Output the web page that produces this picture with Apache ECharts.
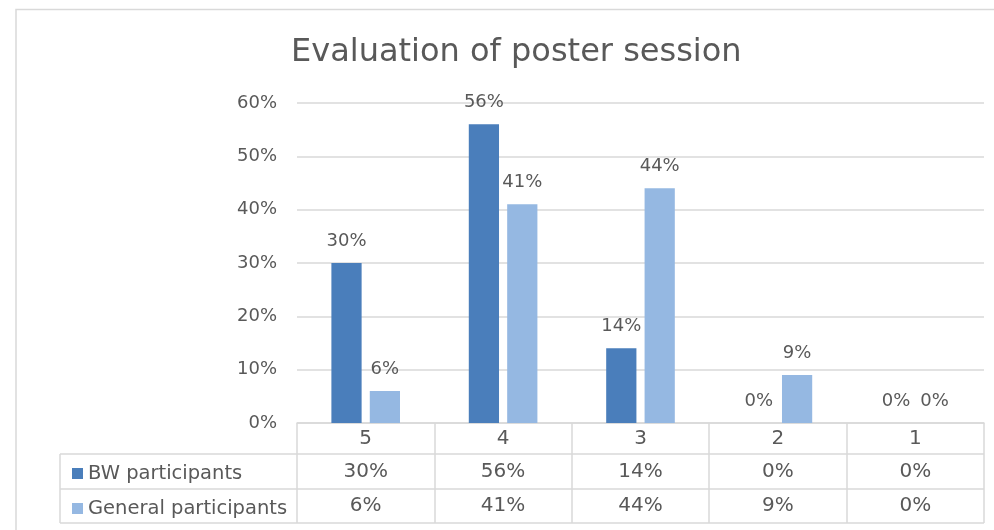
<!DOCTYPE html>
<html>
<head>
<meta charset="utf-8">
<script src="https://cdn.jsdelivr.net/npm/echarts@6/dist/echarts.min.js"></script>
<style>
  html, body { margin: 0; padding: 0; background: #ffffff; }
  #chart { width: 994px; height: 530px; }
</style>
</head>
<body>
<div id="chart"></div>
<script>
// Ratings (5 = best) and share of respondents per rating, in percent
const ratings = ['5', '4', '3', '2', '1'];
const seriesNames = ['BW participants', 'General participants'];
const bwValues = [30, 56, 14, 0, 0];
const generalValues = [6, 41, 44, 9, 0];
const yTicks = { min: 0, max: 60, interval: 10 };

const TEXT = '#595959';
const LINE = '#d9d9d9';
const FONT = 'DejaVu Sans';
const colors = ['#4a7ebb', '#95b8e2'];

const chart = echarts.init(document.getElementById('chart'), null, { renderer: 'canvas' });

// Plot box and the data table under it
const plotLeft = 297, plotRight = 984, plotTop = 103, plotBottom = 423;
const tableLeft = 60, row1 = 454, row2 = 489, row3 = 523;

const valueLabel = {
  show: true, position: 'top', distance: 13,
  formatter: '{c}%', fontFamily: FONT, fontSize: 18, color: TEXT
};

const option = {
  backgroundColor: '#ffffff',
  animation: false,
  color: colors,
  title: {
    text: 'Evaluation of poster session',
    left: 286,
    top: 32,
    textStyle: { fontFamily: FONT, fontSize: 32, fontWeight: 'normal', color: TEXT }
  },
  legend: {
    orient: 'vertical',
    left: 67,
    top: 458,
    itemWidth: 11,
    itemHeight: 11,
    itemGap: 14,
    icon: 'rect',
    selectedMode: false,
    textStyle: { fontFamily: FONT, fontSize: 19.5, color: TEXT, lineHeight: 21 },
    data: seriesNames
  },
  grid: {
    left: plotLeft,
    right: 994 - plotRight,
    top: plotTop,
    bottom: 530 - plotBottom,
    containLabel: false
  },
  xAxis: {
    type: 'category',
    data: ratings,
    axisLine: { show: true, lineStyle: { color: LINE, width: 1.5 } },
    axisTick: { show: true, length: row3 - plotBottom, lineStyle: { color: LINE, width: 1.5 } },
    axisLabel: {
      margin: 0,
      verticalAlign: 'top',
      formatter: function (value, idx) {
        return '{c|' + value + '}\n{b|' + bwValues[idx] + '%}\n{g|' + generalValues[idx] + '%}';
      },
      rich: {
        c: { fontFamily: FONT, fontSize: 20, color: TEXT, lineHeight: row1 - plotBottom },
        b: { fontFamily: FONT, fontSize: 20, color: TEXT, lineHeight: row2 - row1 },
        g: { fontFamily: FONT, fontSize: 20, color: TEXT, lineHeight: row3 - row2 }
      }
    },
    splitLine: { show: false }
  },
  yAxis: {
    type: 'value',
    min: yTicks.min,
    max: yTicks.max,
    interval: yTicks.interval,
    axisLine: { show: false },
    axisTick: { show: false },
    axisLabel: {
      margin: 20,
      formatter: '{value}%',
      fontFamily: FONT, fontSize: 18, color: TEXT
    },
    splitLine: { lineStyle: { color: LINE, width: 1.5 } }
  },
  series: [
    {
      name: seriesNames[0],
      type: 'bar',
      data: bwValues,
      barWidth: '22%',
      barGap: '27%',
      label: valueLabel
    },
    {
      name: seriesNames[1],
      type: 'bar',
      data: generalValues,
      barWidth: '22%',
      label: valueLabel
    }
  ],
  graphic: [
    // outer chart frame
    {
      type: 'rect', silent: true, z: -1,
      shape: { x: 16, y: 9.5, width: 1100, height: 700 },
      style: { fill: 'none', stroke: LINE, lineWidth: 1.5 }
    },
    // data table rules
    {
      type: 'group', silent: true,
      children: [
        { type: 'line', shape: { x1: tableLeft, y1: row1, x2: plotRight, y2: row1 }, style: { stroke: LINE, lineWidth: 1.5 } },
        { type: 'line', shape: { x1: tableLeft, y1: row2, x2: plotRight, y2: row2 }, style: { stroke: LINE, lineWidth: 1.5 } },
        { type: 'line', shape: { x1: tableLeft, y1: row3, x2: plotRight, y2: row3 }, style: { stroke: LINE, lineWidth: 1.5 } },
        { type: 'line', shape: { x1: tableLeft, y1: row1, x2: tableLeft, y2: row3 }, style: { stroke: LINE, lineWidth: 1.5 } }
      ]
    }
  ]
};

chart.setOption(option);
</script>
</body>
</html>
